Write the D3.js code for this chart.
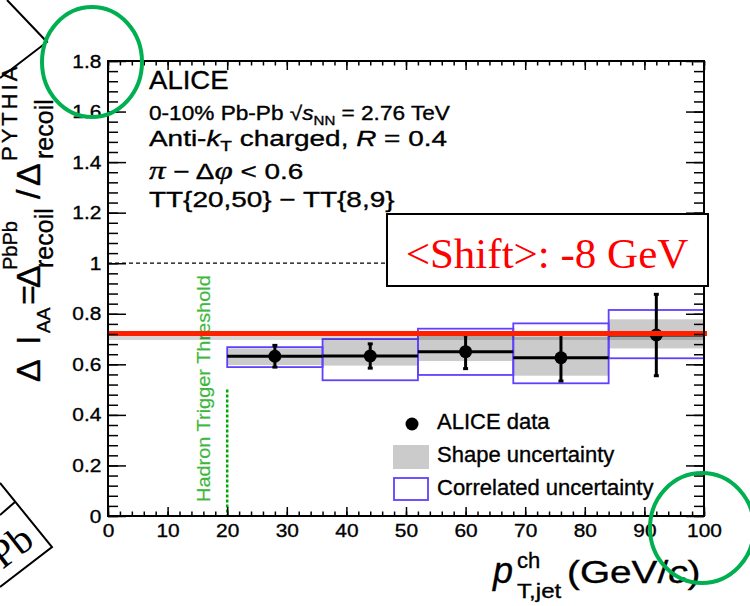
<!DOCTYPE html>
<html><head><meta charset="utf-8">
<script src="https://cdn.jsdelivr.net/npm/d3@7/dist/d3.min.js"></script>
<style>
body { margin: 0; background: #fff; }
svg { display: block; }
text { white-space: pre; }
</style></head><body>
<svg id="c" width="750" height="606"></svg>
<script>
// values
var binLo   = [20, 36, 52, 68, 84],
    binHi   = [36, 52, 68, 84, 100],
    ptX     = [28, 44, 60, 76, 92],
    ptY     = [0.632, 0.633, 0.650, 0.626, 0.716],
    statErr = [0.043, 0.048, 0.067, 0.092, 0.161],
    shapeLo = [0.597, 0.595, 0.613, 0.555, 0.663],
    shapeHi = [0.663, 0.698, 0.730, 0.709, 0.778],
    corrLo  = [0.589, 0.537, 0.558, 0.525, 0.624],
    corrHi  = [0.668, 0.700, 0.741, 0.762, 0.815];
var shiftLevel = 0.722, refLevel = 1, trigX = 20, trigTop = 0.5;
var xTicks = [0, 10, 20, 30, 40, 50, 60, 70, 80, 90, 100],
    yTicks = [0, 0.2, 0.4, 0.6, 0.8, 1, 1.2, 1.4, 1.6, 1.8],
    yTickLabels = ["0", "0.2", "0.4", "0.6", "0.8", "1", "1.2", "1.4", "1.6", "1.8"];
var legendLabels = ["ALICE data", "Shape uncertainty", "Correlated uncertainty"];
var shiftLabel = "<Shift>: -8 GeV";

var SANS = "'Liberation Sans', Arial, Helvetica, sans-serif",
    SERIF = "'Liberation Serif', 'Times New Roman', serif",
    GRAY = "#cbcbcb", BLUE = "#6040ff", RED = "#ff2000", OFFICE_GREEN = "#00b050";

var svg = d3.select("#c");
var x = d3.scaleLinear().domain([0, 100]).range([108, 704]),
    y = d3.scaleLinear().domain([0, 1.8]).range([516, 61]);

// text with optional horizontal stretch and tspans; a hairline stroke thickens it a bit
function txt(parent, px, py, o) {
    var tf = "translate(" + px + "," + py + ")";
    if (o.rot) tf += " rotate(" + o.rot + ")";
    if (o.sx) tf += " scale(" + o.sx + ",1)";
    var fill = o.fill || "#000";
    var t = parent.append("text").attr("transform", tf)
        .attr("font-family", o.family || SANS)
        .attr("font-size", o.size)
        .attr("fill", fill)
        .attr("stroke", fill).attr("stroke-width", o.sw === undefined ? 0.35 : o.sw)
        .attr("text-anchor", o.anchor || "start");
    if (o.ls) t.attr("letter-spacing", o.ls);
    (o.parts || [{t: o.t}]).forEach(function(p) {
        var s = t.append("tspan").text(p.t);
        if (p.i) s.attr("font-style", "italic");
        if (p.dy) s.attr("dy", p.dy);
        if (p.sz) s.attr("font-size", p.sz);
        if (p.fam) s.attr("font-family", p.fam);
    });
    return t;
}

// ---- data marks ----
var idx = d3.range(ptX.length);

svg.append("g").selectAll("rect").data(idx).enter().append("rect")
    .attr("x", function(i) { return x(binLo[i]); })
    .attr("width", function(i) { return x(binHi[i]) - x(binLo[i]); })
    .attr("y", function(i) { return y(shapeHi[i]); })
    .attr("height", function(i) { return y(shapeLo[i]) - y(shapeHi[i]); })
    .attr("fill", GRAY);

svg.append("g").selectAll("rect").data(idx).enter().append("rect")
    .attr("x", function(i) { return x(binLo[i]); })
    .attr("width", function(i) { return x(binHi[i]) - x(binLo[i]); })
    .attr("y", function(i) { return y(corrHi[i]); })
    .attr("height", function(i) { return y(corrLo[i]) - y(corrHi[i]); })
    .attr("fill", "none").attr("stroke", BLUE).attr("stroke-width", 1.8);

// dashed reference at 1 and trigger threshold
svg.append("line").attr("x1", x(0)).attr("x2", x(100))
    .attr("y1", y(refLevel)).attr("y2", y(refLevel))
    .attr("stroke", "#000").attr("stroke-width", 1.2).attr("stroke-dasharray", "4,3");
svg.append("line").attr("x1", x(trigX)).attr("x2", x(trigX))
    .attr("y1", y(trigTop)).attr("y2", y(0))
    .attr("stroke", "#00a800").attr("stroke-width", 2.5).attr("stroke-dasharray", "3,2");
txt(svg, 210, 502, {t: "Hadron Trigger Threshold", size: 19, rot: -90, sx: 1.05, fill: "#3cb83c", sw: 0.2});

var pts = svg.append("g").attr("stroke", "#000").attr("stroke-width", 3);
pts.selectAll("line.bin").data(idx).enter().append("line").attr("class", "bin")
    .attr("x1", function(i) { return x(binLo[i]); })
    .attr("x2", function(i) { return x(binHi[i]); })
    .attr("y1", function(i) { return y(ptY[i]); })
    .attr("y2", function(i) { return y(ptY[i]); });
pts.selectAll("line.err").data(idx).enter().append("line").attr("class", "err")
    .attr("x1", function(i) { return x(ptX[i]); })
    .attr("x2", function(i) { return x(ptX[i]); })
    .attr("y1", function(i) { return y(ptY[i] + statErr[i]); })
    .attr("y2", function(i) { return y(ptY[i] - statErr[i]); });
[1, -1].forEach(function(sgn) {
    pts.selectAll(null).data(idx).enter().append("line")
        .attr("x1", function(i) { return x(ptX[i]) - 2.5; })
        .attr("x2", function(i) { return x(ptX[i]) + 2.5; })
        .attr("y1", function(i) { return y(ptY[i] + sgn * statErr[i]); })
        .attr("y2", function(i) { return y(ptY[i] + sgn * statErr[i]); });
});
svg.append("g").selectAll("circle").data(idx).enter().append("circle")
    .attr("cx", function(i) { return x(ptX[i]); })
    .attr("cy", function(i) { return y(ptY[i]); })
    .attr("r", 6.5).attr("fill", "#000");

// red shifted level with its soft shadow
svg.append("line").attr("x1", x(0)).attr("x2", x(100))
    .attr("y1", y(shiftLevel) + 4.5).attr("y2", y(shiftLevel) + 4.5)
    .attr("stroke", "rgba(0,0,0,0.16)").attr("stroke-width", 4);
svg.append("line").attr("x1", x(0)).attr("x2", x(100) + 3)
    .attr("y1", y(shiftLevel)).attr("y2", y(shiftLevel))
    .attr("stroke", RED).attr("stroke-width", 5);

// ---- axes (ROOT style, ticks inward on all four sides) ----
function styleAxis(g) {
    g.select(".domain").remove();
    g.selectAll(".tick line").attr("stroke", "#000").attr("stroke-width", 1.5);
    g.selectAll("text").attr("font-family", SANS).attr("font-size", 19).attr("fill", "#000")
        .attr("stroke", "#000").attr("stroke-width", 0.35);
}
var xMinor = d3.range(0, 100.01, 2), yMinor = d3.range(0, 1.8001, 0.04);

svg.append("g").attr("transform", "translate(0," + y(0) + ")")
    .call(d3.axisBottom(x).tickValues(xMinor).tickSize(-4.5).tickFormat("")).call(styleAxis);
var gx = svg.append("g").attr("transform", "translate(0," + y(0) + ")")
    .call(d3.axisBottom(x).tickValues(xTicks).tickSize(-9).tickPadding(8).tickFormat(d3.format("d")))
    .call(styleAxis);
gx.selectAll("text").attr("transform", "scale(1.1,1)");
svg.append("g").attr("transform", "translate(0," + y(1.8) + ")")
    .call(d3.axisTop(x).tickValues(xMinor).tickSize(-4.5).tickFormat("")).call(styleAxis);
svg.append("g").attr("transform", "translate(0," + y(1.8) + ")")
    .call(d3.axisTop(x).tickValues(xTicks).tickSize(-9).tickFormat("")).call(styleAxis);

svg.append("g").attr("transform", "translate(" + x(0) + ",0)")
    .call(d3.axisLeft(y).tickValues(yMinor).tickSize(-10).tickFormat("")).call(styleAxis);
var gy = svg.append("g").attr("transform", "translate(" + x(0) + ",0)")
    .call(d3.axisLeft(y).tickValues(yTicks).tickSize(-18).tickPadding(6)
        .tickFormat(function(d, i) { return yTickLabels[i]; }))
    .call(styleAxis);
gy.selectAll("text").attr("transform", "scale(1.1,1)");
svg.append("g").attr("transform", "translate(" + x(100) + ",0)")
    .call(d3.axisRight(y).tickValues(yMinor).tickSize(-10).tickFormat("")).call(styleAxis);
svg.append("g").attr("transform", "translate(" + x(100) + ",0)")
    .call(d3.axisRight(y).tickValues(yTicks).tickSize(-18).tickFormat("")).call(styleAxis);

svg.append("rect").attr("x", x(0)).attr("y", y(1.8))
    .attr("width", x(100) - x(0)).attr("height", y(0) - y(1.8))
    .attr("fill", "none").attr("stroke", "#000").attr("stroke-width", 2);

// y title, pieces set along the rotated baseline
var yTitle = [
    {t: "\u0394", at: 0, base: 0, size: 34},
    {t: "I", at: 37, base: 0, size: 34},
    {t: "AA", at: 49, base: 10, size: 19},
    {t: "=", at: 77, base: 0, size: 34},
    {t: "\u0394", at: 94, base: 0, size: 34},
    {t: "PbPb", at: 112, base: -23, size: 20},
    {t: "recoil", at: 114, base: 13, size: 25},
    {t: "/", at: 183, base: 0, size: 34},
    {t: "\u0394", at: 196, base: 0, size: 34},
    {t: "PYTHIA", at: 221, base: -23, size: 22, ls: 3},
    {t: "recoil", at: 223, base: 13, size: 25}
];
var yl = svg.append("g").attr("transform", "translate(40,382) rotate(-90)");
yTitle.forEach(function(p) { txt(yl, p.at, p.base, {t: p.t, size: p.size, ls: p.ls}); });

// x title
txt(svg, 493, 583, {size: 36, parts: [{t: "p", i: true}]});
txt(svg, 517, 568, {t: "ch", size: 22});
txt(svg, 517, 598, {t: "T,jet", size: 21, sx: 1.15});
txt(svg, 567, 583, {size: 31, sx: 1.25, parts: [{t: "(GeV/"}, {t: "c", i: true}, {t: ")"}]});

// ---- caption block ----
txt(svg, 149, 89, {t: "ALICE", size: 26, sx: 1.06});
txt(svg, 149, 120, {size: 19.5, sx: 1.16, parts: [
    {t: "0-10% Pb-Pb "}, {t: "\u221a"}, {t: "s", i: true},
    {t: "NN", sz: 13, dy: 5}, {t: " = 2.76 TeV", dy: -5}]});
txt(svg, 149, 146, {size: 22, sx: 1.27, parts: [
    {t: "Anti-"}, {t: "k", i: true}, {t: "T", sz: 15, dy: 5},
    {t: " charged, ", dy: -5}, {t: "R", i: true}, {t: " = 0.4"}]});
txt(svg, 149, 179, {size: 22, sx: 1.27, parts: [
    {t: "\u03c0", i: true, fam: SERIF, sz: 26}, {t: " \u2212 \u0394"},
    {t: "\u03c6", i: true, fam: SERIF, sz: 26}, {t: " < 0.6"}]});
txt(svg, 149, 207, {t: "TT{20,50} \u2212 TT{8,9}", size: 22, sx: 1.27});

// ---- legend ----
svg.append("circle").attr("cx", 412).attr("cy", 424).attr("r", 6.5).attr("fill", "#000");
svg.append("rect").attr("x", 393).attr("y", 445).attr("width", 36).attr("height", 24).attr("fill", GRAY);
svg.append("rect").attr("x", 394).attr("y", 478).attr("width", 34).attr("height", 22)
    .attr("fill", "none").attr("stroke", BLUE).attr("stroke-width", 1.8);
[429, 462, 495].forEach(function(by, i) {
    txt(svg, 437, by, {t: legendLabels[i], size: 22});
});

// ---- shift box ----
svg.append("rect").attr("x", 387).attr("y", 214).attr("width", 321).attr("height", 72)
    .attr("fill", "#fff").attr("stroke", "#000").attr("stroke-width", 2);
txt(svg, 547, 268, {t: shiftLabel, size: 43, family: SERIF, fill: "#ff0000", anchor: "middle", sw: 0});

// ---- slide decorations ----
var deco = svg.append("g").attr("fill", "none").attr("stroke", "#000").attr("stroke-width", 2);
deco.append("polyline").attr("points", "7,0 47,42 0,78");
deco.append("polyline").attr("points", "0,483 52,547 0,587");
deco.append("line").attr("x1", 15).attr("y1", 502).attr("x2", 0).attr("y2", 515);
txt(svg, 36, 544, {t: "Pb", size: 40, family: SERIF, rot: -37.7, anchor: "end", sw: 0});

svg.append("ellipse").attr("cx", 92).attr("cy", 62).attr("rx", 50).attr("ry", 55)
    .attr("fill", "none").attr("stroke", OFFICE_GREEN).attr("stroke-width", 4);
svg.append("ellipse").attr("cx", 702).attr("cy", 528).attr("rx", 52).attr("ry", 55)
    .attr("fill", "none").attr("stroke", OFFICE_GREEN).attr("stroke-width", 4);
</script>
</body></html>
